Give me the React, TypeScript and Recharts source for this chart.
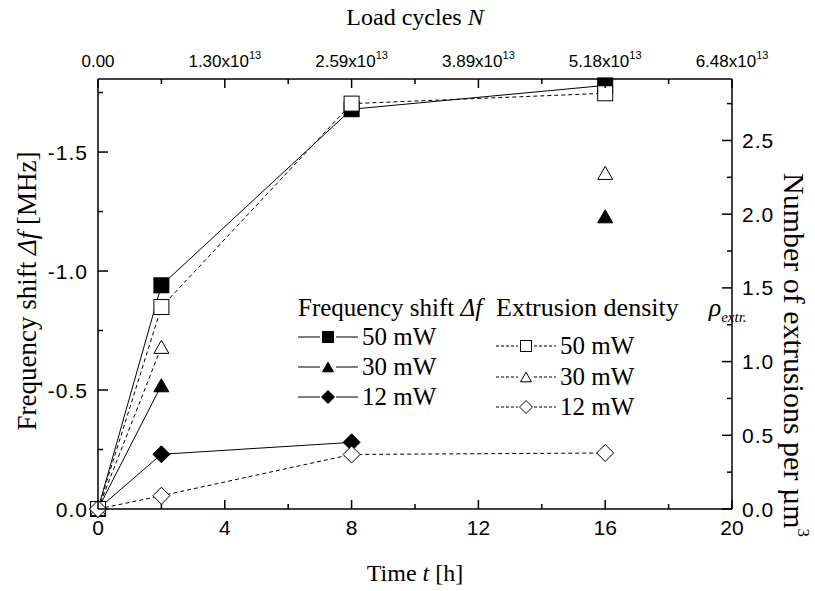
import React from "react";
import { LineChart, Line, XAxis, YAxis, Legend, Label } from "recharts";

// time in hours
const TIME = [0, 2, 8, 16];
// frequency shift [MHz], filled symbols, solid lines
const SHIFT_50 = [0, -0.94, -1.68, -1.78];
const SHIFT_30 = [0, -0.52, null, -1.23];
const SHIFT_12 = [0, -0.23, -0.28, null];
// extrusion density [1/um^3], open symbols, dashed lines
const EXTR_50 = [0, 1.37, 2.75, 2.82];
const EXTR_30 = [0, 1.1, null, 2.28];
const EXTR_12 = [0, 0.09, 0.37, 0.38];

const T_TICKS = [0, 2, 4, 6, 8, 10, 12, 14, 16, 18, 20];
const N_LABELS = ["0.00", "1.30x10^13", "2.59x10^13", "3.89x10^13", "5.18x10^13", "6.48x10^13"];
const SHIFT_TICKS = [0, -0.25, -0.5, -0.75, -1, -1.25, -1.5, -1.75];
const EXTR_TICKS = [0, 0.25, 0.5, 0.75, 1, 1.25, 1.5, 1.75, 2, 2.25, 2.5, 2.75];

const data = TIME.map((t, i) => ({
  t,
  f50: SHIFT_50[i],
  f30: SHIFT_30[i],
  f12: SHIFT_12[i],
  e50: EXTR_50[i],
  e30: EXTR_30[i],
  e12: EXTR_12[i],
}));

const SERIF = "'Liberation Serif', 'Times New Roman', serif";
const SANS = "'Liberation Sans', Arial, sans-serif";
const AXIS_LINE = { stroke: "#000", strokeWidth: 1.5 };

type Shape = "square" | "triangle" | "diamond";

const Symbol = ({ cx, cy, shape, filled, size }: any) => {
  const s = size;
  const fill = filled ? "#000" : "#fff";
  if (shape === "square") {
    return <rect x={cx - s / 2} y={cy - s / 2} width={s} height={s} fill={fill} stroke="#000" strokeWidth={1} />;
  }
  if (shape === "triangle") {
    const h = s * 0.87;
    const pts = `${cx},${cy - h / 2} ${cx + s / 2},${cy + h / 2} ${cx - s / 2},${cy + h / 2}`;
    return <polygon points={pts} fill={fill} stroke="#000" strokeWidth={1} />;
  }
  const r = s / 2 + 1;
  const pts = `${cx},${cy - r} ${cx + r},${cy} ${cx},${cy + r} ${cx - r},${cy}`;
  return <polygon points={pts} fill={fill} stroke="#000" strokeWidth={1} />;
};

const dotFor = (shape: Shape, filled: boolean) => (props: any) => {
  const { cx, cy, value, index } = props;
  if (value == null || cx == null || cy == null) return <g key={index} />;
  return <Symbol key={index} cx={cx} cy={cy} shape={shape} filled={filled} size={15} />;
};

const isMajor = (v: number, step: number) => Math.abs(v / step - Math.round(v / step)) < 1e-6;

const BottomTick = ({ x, y, payload }: any) => {
  const major = isMajor(payload.value, 4);
  return (
    <g>
      <line x1={x} x2={x} y1={y} y2={y - (major ? 9 : 5)} stroke="#000" strokeWidth={1.5} />
      {major && (
        <text x={x} y={y + 26} textAnchor="middle" fontFamily={SANS} fontSize={21} fill="#000">
          {payload.value}
        </text>
      )}
    </g>
  );
};

const TopTick = ({ x, y, payload }: any) => {
  const major = isMajor(payload.value, 4);
  const label = major ? N_LABELS[Math.round(payload.value / 4)] : "";
  const [base, exp] = label.split("^");
  return (
    <g>
      <line x1={x} x2={x} y1={y} y2={y + (major ? 9 : 5)} stroke="#000" strokeWidth={1.5} />
      {major && (
        <text x={x} y={y - 12} textAnchor="middle" fontFamily={SANS} fontSize={17} fill="#000">
          {base}
          {exp && (
            <tspan dy={-8} fontSize={11}>
              {exp}
            </tspan>
          )}
        </text>
      )}
    </g>
  );
};

const LeftTick = ({ x, y, payload }: any) => {
  const major = isMajor(payload.value, 0.5);
  return (
    <g>
      <line x1={x} x2={x + (major ? 10 : 5)} y1={y} y2={y} stroke="#000" strokeWidth={1.5} />
      {major && (
        <text x={x - 10} y={y} dy="0.36em" textAnchor="end" fontFamily={SANS} fontSize={21} letterSpacing={1} fill="#000">
          {payload.value.toFixed(1)}
        </text>
      )}
    </g>
  );
};

const RightTick = ({ x, y, payload }: any) => {
  const major = isMajor(payload.value, 0.5);
  return (
    <g>
      <line x1={x} x2={x - (major ? 10 : 5)} y1={y} y2={y} stroke="#000" strokeWidth={1.5} />
      {major && (
        <text x={x + 10} y={y} dy="0.36em" textAnchor="start" fontFamily={SANS} fontSize={21} letterSpacing={1} fill="#000">
          {payload.value.toFixed(1)}
        </text>
      )}
    </g>
  );
};

const BottomTitle = ({ viewBox }: any) => (
  <text x={viewBox.x + viewBox.width / 2} y={viewBox.y + 72} textAnchor="middle" fontFamily={SERIF} fontSize={24} fill="#000">
    Time <tspan fontStyle="italic">t</tspan> [h]
  </text>
);

const TopTitle = ({ viewBox }: any) => (
  <text x={viewBox.x + viewBox.width / 2} y={viewBox.y - 14} textAnchor="middle" fontFamily={SERIF} fontSize={24} fill="#000">
    Load cycles <tspan fontStyle="italic">N</tspan>
  </text>
);

const LeftTitle = ({ viewBox }: any) => {
  const x = viewBox.x - 11;
  const y = 291;
  return (
    <text x={x} y={y} transform={`rotate(-90, ${x}, ${y})`} textAnchor="middle" dominantBaseline="central" fontFamily={SERIF} fontSize={27} fill="#000">
      Frequency shift <tspan fontStyle="italic">Δf</tspan> [MHz]
    </text>
  );
};

const RightTitle = ({ viewBox }: any) => {
  const x = viewBox.x + 62;
  const y = 355;
  return (
    <text x={x} y={y} transform={`rotate(90, ${x}, ${y})`} textAnchor="middle" dominantBaseline="central" fontFamily={SERIF} fontSize={30} fill="#000">
      Number of extrusions per µm
      <tspan dy={-10} fontSize={17}>
        3
      </tspan>
    </text>
  );
};

const LegendIcon = ({ shape, filled, dashed }: { shape: Shape; filled: boolean; dashed: boolean }) => (
  <svg width={60} height={20} style={{ display: "block" }}>
    <line x1={0} x2={22} y1={10} y2={10} stroke="#000" strokeWidth={1} strokeDasharray={dashed ? "3 2" : undefined} />
    <line x1={38} x2={60} y1={10} y2={10} stroke="#000" strokeWidth={1} strokeDasharray={dashed ? "3 2" : undefined} />
    <Symbol cx={30} cy={10} shape={shape} filled={filled} size={11} />
  </svg>
);

const row = (left: number, cy: number): React.CSSProperties => ({
  position: "absolute",
  left,
  top: cy - 15,
  height: 30,
  display: "flex",
  alignItems: "center",
  whiteSpace: "nowrap",
  fontFamily: SERIF,
  fontSize: 25,
  color: "#000",
  lineHeight: "30px",
});

const LEGEND_SHIFT = [
  { shape: "square" as Shape, label: "50 mW" },
  { shape: "triangle" as Shape, label: "30 mW" },
  { shape: "diamond" as Shape, label: "12 mW" },
];

const LegendBox = () => (
  <div style={{ position: "relative", width: 0, height: 0 }}>
    <div style={row(298, 308)}>
      Frequency shift&nbsp;<i>Δf</i>
    </div>
    <div style={{ ...row(496, 308), fontSize: 26 }}>
      Extrusion density
      <i style={{ marginLeft: 30 }}>ρ</i>
      <i style={{ fontSize: 15, position: "relative", top: 9 }}>extr.</i>
    </div>
    {LEGEND_SHIFT.map((it, i) => (
      <div key={"f" + i} style={row(298, 337 + i * 30)}>
        <LegendIcon shape={it.shape} filled={true} dashed={false} />
        <span style={{ marginLeft: 4 }}>{it.label}</span>
      </div>
    ))}
    {LEGEND_SHIFT.map((it, i) => (
      <div key={"e" + i} style={row(496, 346 + i * 30.5)}>
        <LegendIcon shape={it.shape} filled={false} dashed={true} />
        <span style={{ marginLeft: 4 }}>{it.label}</span>
      </div>
    ))}
  </div>
);

export default function App() {
  return (
    <div style={{ position: "absolute", left: 0, top: 0, width: 815, height: 591 }}>
      <LineChart width={815} height={591} data={data} margin={{ top: 39, right: 23, bottom: 42, left: 38 }}>
        <XAxis
          xAxisId="bottom"
          dataKey="t"
          type="number"
          domain={[0, 20]}
          ticks={T_TICKS}
          interval={0}
          height={40}
          tickSize={0}
          tickMargin={0}
          tickLine={false}
          axisLine={AXIS_LINE}
          tick={<BottomTick />}
        >
          <Label content={<BottomTitle />} />
        </XAxis>
        <XAxis
          xAxisId="top"
          orientation="top"
          dataKey="t"
          type="number"
          domain={[0, 20]}
          ticks={T_TICKS}
          interval={0}
          height={40}
          tickSize={0}
          tickMargin={0}
          tickLine={false}
          axisLine={AXIS_LINE}
          tick={<TopTick />}
        >
          <Label content={<TopTitle />} />
        </XAxis>
        <YAxis
          yAxisId="left"
          type="number"
          domain={[-1.807, 0]}
          reversed={true}
          ticks={SHIFT_TICKS}
          interval={0}
          width={60}
          tickSize={0}
          tickMargin={0}
          tickLine={false}
          axisLine={AXIS_LINE}
          tick={<LeftTick />}
        >
          <Label content={<LeftTitle />} />
        </YAxis>
        <YAxis
          yAxisId="right"
          orientation="right"
          type="number"
          domain={[0, 2.917]}
          ticks={EXTR_TICKS}
          interval={0}
          width={60}
          tickSize={0}
          tickMargin={0}
          tickLine={false}
          axisLine={AXIS_LINE}
          tick={<RightTick />}
        >
          <Label content={<RightTitle />} />
        </YAxis>
        <Legend content={<LegendBox />} wrapperStyle={{ position: "absolute", left: 0, top: 0, width: 0, height: 0 }} />

        <Line xAxisId="bottom" yAxisId="left" dataKey="f50" stroke="#000" strokeWidth={1} dot={dotFor("square", true)} activeDot={false} isAnimationActive={false} />
        <Line xAxisId="bottom" yAxisId="left" dataKey="f30" stroke="#000" strokeWidth={1} dot={dotFor("triangle", true)} activeDot={false} isAnimationActive={false} />
        <Line xAxisId="bottom" yAxisId="left" dataKey="f12" stroke="#000" strokeWidth={1} dot={dotFor("diamond", true)} activeDot={false} isAnimationActive={false} />
        <Line xAxisId="bottom" yAxisId="right" dataKey="e50" stroke="#000" strokeWidth={1} strokeDasharray="4 3" dot={dotFor("square", false)} activeDot={false} isAnimationActive={false} />
        <Line xAxisId="bottom" yAxisId="right" dataKey="e30" stroke="#000" strokeWidth={1} strokeDasharray="4 3" dot={dotFor("triangle", false)} activeDot={false} isAnimationActive={false} />
        <Line xAxisId="bottom" yAxisId="right" dataKey="e12" stroke="#000" strokeWidth={1} strokeDasharray="4 3" dot={dotFor("diamond", false)} activeDot={false} isAnimationActive={false} />
      </LineChart>
    </div>
  );
}
